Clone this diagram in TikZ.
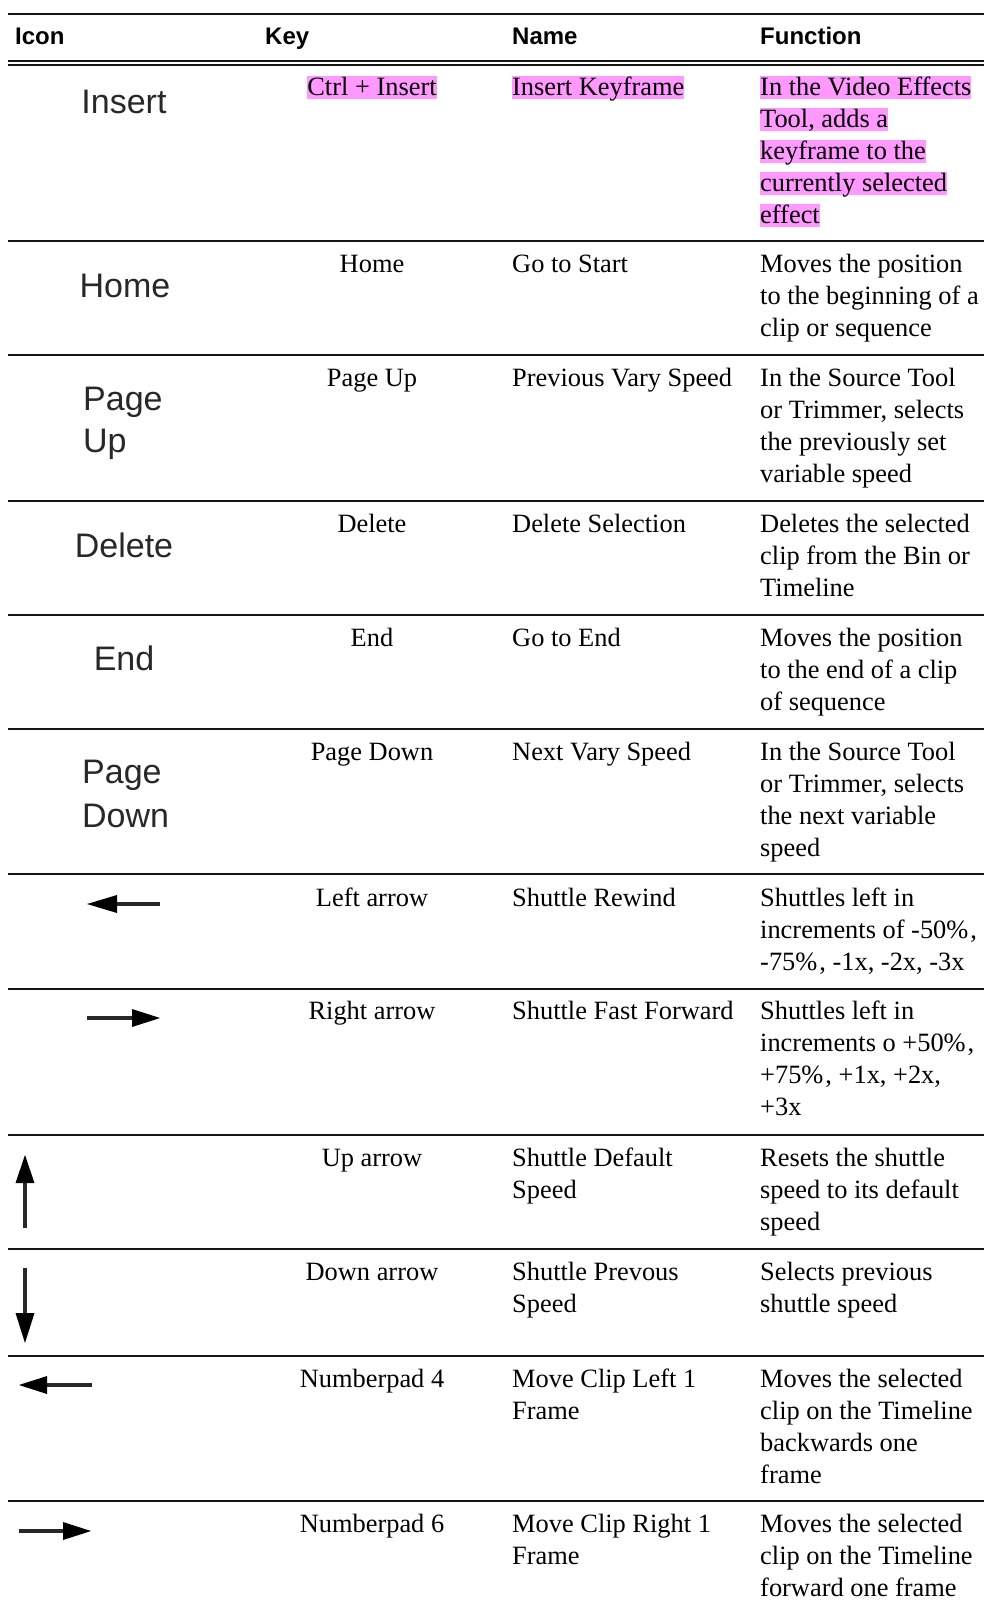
\documentclass[tikz,border=0pt]{standalone}
\usepackage{fontspec}
\setmainfont{Liberation Serif}
\newfontfamily\hdfont{Liberation Sans}
\newfontfamily\icfont{Liberation Sans}
\definecolor{hl}{RGB}{255,153,255}
\definecolor{rulec}{RGB}{20,20,20}
\definecolor{icg}{RGB}{40,40,40}
\newcommand\Lx[1]{\hbox{#1}}
\newcommand\cellbox[1]{\vtop{\baselineskip=32pt #1}}
\newcommand\pc{\%\kern2pt}
\tikzset{
 body/.style={inner sep=0pt, font=\fontsize{26.4}{32}\selectfont},
 cellL/.style={body, anchor=base west},
 cellC/.style={body, anchor=base},
 hlbox/.style={body, anchor=base west, fill=hl, text height=19.3pt, text depth=4.3pt},
 hdr/.style={inner sep=0pt, anchor=base west, font=\hdfont\bfseries\fontsize{24}{28}\selectfont},
 icon/.style={inner sep=0pt, text=icg, font=\icfont\fontsize{34}{44}\selectfont},
 iconC/.style={icon, anchor=base},
 iconL/.style={icon, anchor=base west},
 rl/.style={line width=2pt, draw=rulec},
 shaft/.style={line width=4pt, draw=icg},
 head/.style={fill=black, draw=none},
}
\begin{document}
\begin{tikzpicture}[x=1pt,y=-1pt]
\useasboundingbox (0,0) rectangle (984,1609);
\fill[white] (0,0) rectangle (984,1609);
% rules
\draw[rl] (8,14) -- (984,14);
\draw[rl] (8,61) -- (984,61);
\draw[rl] (8,65) -- (984,65);
\foreach \yy in {241,355,501,615,729,874,989,1135,1249,1356,1501}
  \draw[rl] (8,\yy) -- (984,\yy);
% header
\node[hdr] (hIcon) at (15,44.5) {Icon};
\node[hdr] (hKey) at (265,44.5) {Key};
\node[hdr] (hName) at (512,44.5) {Name};
\node[hdr] (hFunc) at (760,44.5) {Function};
% row 1
\node[iconC] (i1) at (124,113) {Insert};
\node[hlbox, anchor=base] (k1) at (372,95) {Ctrl + Insert};
\node[hlbox] (n1) at (512,95) {Insert Keyframe};
\node[hlbox] (f1a) at (760,95) {In the Video Effects};
\node[hlbox] (f1b) at (760,127) {Tool, adds a};
\node[hlbox] (f1c) at (760,159) {keyframe to the};
\node[hlbox] (f1d) at (760,191) {currently selected};
\node[hlbox] (f1e) at (760,223) {effect};
% row 2
\node[iconC] (i2) at (125,297) {Home};
\node[cellC] (k2) at (372,272) {Home};
\node[cellL] (n2) at (512,272) {Go to Start};
\node[cellL] (f2) at (760,272) {\cellbox{\Lx{Moves the position}\Lx{to the beginning of a}\Lx{clip or sequence}}};
% row 3
\node[iconL] (i3a) at (83,410) {Page};
\node[iconL] (i3b) at (83,452) {Up};
\node[cellC] (k3) at (372,386) {Page Up};
\node[cellL] (n3) at (512,386) {Previous Vary Speed};
\node[cellL] (f3) at (760,386) {\cellbox{\Lx{In the Source Tool}\Lx{or Trimmer, selects}\Lx{the previously set}\Lx{variable speed}}};
% row 4
\node[iconC] (i4) at (124,557) {Delete};
\node[cellC] (k4) at (372,532) {Delete};
\node[cellL] (n4) at (512,532) {Delete Selection};
\node[cellL] (f4) at (760,532) {\cellbox{\Lx{Deletes the selected}\Lx{clip from the Bin or}\Lx{Timeline}}};
% row 5
\node[iconC] (i5) at (124,670) {End};
\node[cellC] (k5) at (372,646) {End};
\node[cellL] (n5) at (512,646) {Go to End};
\node[cellL] (f5) at (760,646) {\cellbox{\Lx{Moves the position}\Lx{to the end of a clip}\Lx{of sequence}}};
% row 6
\node[iconL] (i6a) at (82,783) {Page};
\node[iconL] (i6b) at (82,827) {Down};
\node[cellC] (k6) at (372,760) {Page Down};
\node[cellL] (n6) at (512,760) {Next Vary Speed};
\node[cellL] (f6) at (760,760) {\cellbox{\Lx{In the Source Tool}\Lx{or Trimmer, selects}\Lx{the next variable}\Lx{speed}}};
% row 7
\draw[shaft] (112,904) -- (160,904);
\fill[head] (87,904) -- (117,895) -- (117,913) -- cycle;
\node[cellC] (k7) at (372,906) {Left arrow};
\node[cellL] (n7) at (512,906) {Shuttle Rewind};
\node[cellL] (f7) at (760,906) {\cellbox{\Lx{Shuttles left in}\Lx{increments of -50\pc,}\Lx{-75\pc, -1x, -2x, -3x}}};
% row 8
\draw[shaft] (87,1018) -- (137,1018);
\fill[head] (160,1018) -- (132,1009) -- (132,1027) -- cycle;
\node[cellC] (k8) at (372,1019) {Right arrow};
\node[cellL] (n8) at (512,1019) {Shuttle Fast Forward};
\node[cellL] (f8) at (760,1019) {\cellbox{\Lx{Shuttles left in}\Lx{increments o +50\pc,}\Lx{+75\pc, +1x, +2x,}\Lx{+3x}}};
% row 9
\draw[shaft] (25,1228) -- (25,1178);
\fill[head] (25,1155) -- (15.5,1183) -- (34.5,1183) -- cycle;
\node[cellC] (k9) at (372,1166) {Up arrow};
\node[cellL] (n9) at (512,1166) {\cellbox{\Lx{Shuttle Default}\Lx{Speed}}};
\node[cellL] (f9) at (760,1166) {\cellbox{\Lx{Resets the shuttle}\Lx{speed to its default}\Lx{speed}}};
% row 10
\draw[shaft] (25,1268) -- (25,1318);
\fill[head] (25,1343) -- (15.5,1313) -- (34.5,1313) -- cycle;
\node[cellC] (k10) at (372,1280) {Down arrow};
\node[cellL] (n10) at (512,1280) {\cellbox{\Lx{Shuttle Prevous}\Lx{Speed}}};
\node[cellL] (f10) at (760,1280) {\cellbox{\Lx{Selects previous}\Lx{shuttle speed}}};
% row 11
\draw[shaft] (42,1385) -- (92,1385);
\fill[head] (19,1385) -- (47,1376) -- (47,1394) -- cycle;
\node[cellC] (k11) at (372,1387) {Numberpad 4};
\node[cellL] (n11) at (512,1387) {\cellbox{\Lx{Move Clip Left 1}\Lx{Frame}}};
\node[cellL] (f11) at (760,1387) {\cellbox{\Lx{Moves the selected}\Lx{clip on the Timeline}\Lx{backwards one}\Lx{frame}}};
% row 12
\draw[shaft] (19,1531) -- (68,1531);
\fill[head] (91,1531) -- (63,1522) -- (63,1540) -- cycle;
\node[cellC] (k12) at (372,1532) {Numberpad 6};
\node[cellL] (n12) at (512,1532) {\cellbox{\Lx{Move Clip Right 1}\Lx{Frame}}};
\node[cellL] (f12) at (760,1532) {\cellbox{\Lx{Moves the selected}\Lx{clip on the Timeline}\Lx{forward one frame}}};
\end{tikzpicture}
\end{document}
